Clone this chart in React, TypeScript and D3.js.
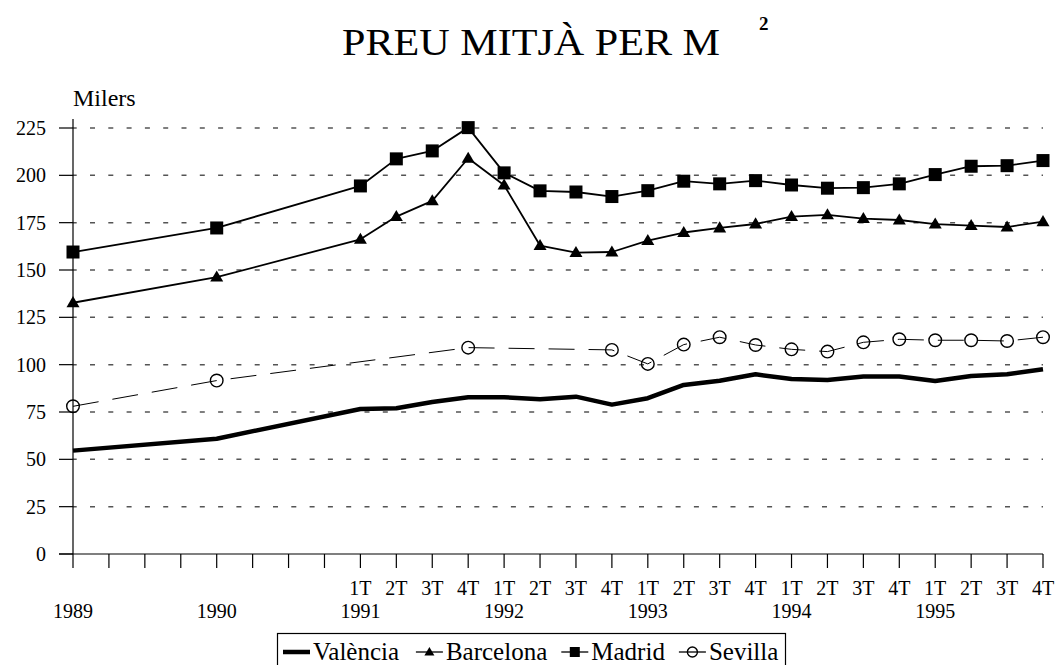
import React from "react";
import * as d3 from "d3";

const periods = [
  "1989", "1989-2", "1989-3", "1989-4",
  "1990", "1990-2", "1990-3", "1990-4",
  "1991-1T", "1991-2T", "1991-3T", "1991-4T",
  "1992-1T", "1992-2T", "1992-3T", "1992-4T",
  "1993-1T", "1993-2T", "1993-3T", "1993-4T",
  "1994-1T", "1994-2T", "1994-3T", "1994-4T",
  "1995-1T", "1995-2T", "1995-3T", "1995-4T",
];

const quarterLabels = [
  "", "", "", "", "", "", "", "",
  "1T", "2T", "3T", "4T", "1T", "2T", "3T", "4T",
  "1T", "2T", "3T", "4T", "1T", "2T", "3T", "4T",
  "1T", "2T", "3T", "4T",
];

const yearLabels = [
  { label: "1989", at: "1989" },
  { label: "1990", at: "1990" },
  { label: "1991", at: "1991-1T" },
  { label: "1992", at: "1992-1T" },
  { label: "1993", at: "1993-1T" },
  { label: "1994", at: "1994-1T" },
  { label: "1995", at: "1995-1T" },
];

const yTicks = [0, 25, 50, 75, 100, 125, 150, 175, 200, 225];

const valencia = [54.6, null, null, null, 60.9, null, null, null, 76.6, 77.0, 80.3, 82.8, 82.8, 81.7, 83.1, 78.9, 82.3, 89.3, 91.5, 94.9, 92.4, 91.9, 93.7, 93.7, 91.4, 94.0, 94.9, 97.6];
const barcelona = [132.7, null, null, null, 146.2, null, null, null, 166.2, 178.2, 186.5, 209.0, 194.8, 162.9, 159.2, 159.5, 165.5, 169.8, 172.2, 174.3, 178.2, 179.1, 177.1, 176.4, 174.2, 173.4, 172.7, 175.5];
const madrid = [159.5, null, null, null, 172.2, null, null, null, 194.4, 208.7, 212.9, 225.2, 201.3, 191.8, 191.2, 188.8, 191.9, 196.9, 195.5, 197.2, 194.9, 193.2, 193.5, 195.5, 200.4, 204.8, 205.1, 207.8];
const sevilla = [78.0, null, null, null, 91.6, null, null, null, null, null, null, 109.0, null, null, null, 107.8, 100.4, 110.6, 114.5, 110.4, 108.1, 106.9, 111.8, 113.4, 112.9, 112.9, 112.5, 114.5];

const seriesNames = ["València", "Barcelona", "Madrid", "Sevilla"];

const FONT = '"Liberation Serif", "Times New Roman", Times, serif';

type Marker = "none" | "triangle" | "square" | "circle";

function MarkerShape({ kind, x, y, s }: { kind: Marker; x: number; y: number; s: number }) {
  if (kind === "square") {
    return <rect x={x - s / 2} y={y - s / 2} width={s} height={s} fill="#000" />;
  }
  if (kind === "triangle") {
    const h = s * 0.85;
    return (
      <path
        d={`M${x},${y - h * 0.6} L${x + s / 2},${y + h * 0.4} L${x - s / 2},${y + h * 0.4} Z`}
        fill="#000"
      />
    );
  }
  if (kind === "circle") {
    return <circle cx={x} cy={y} r={s / 2} fill="none" stroke="#000" strokeWidth={1.4} />;
  }
  return null;
}

export default function App() {
  const W = 1055;
  const H = 665;
  const x = d3.scalePoint<string>().domain(periods).range([73, 1043]);
  const y = d3.scaleLinear().domain([0, 225]).range([554, 128]);

  const series = [
    { name: seriesNames[0], values: valencia, width: 4.5, dash: "", marker: "none" as Marker, ms: 0 },
    { name: seriesNames[1], values: barcelona, width: 1.8, dash: "", marker: "triangle" as Marker, ms: 13 },
    { name: seriesNames[2], values: madrid, width: 1.8, dash: "", marker: "square" as Marker, ms: 13 },
    { name: seriesNames[3], values: sevilla, width: 1, dash: "26,14", marker: "circle" as Marker, ms: 12.6 },
  ];

  const lineGen = d3
    .line<[string, number]>()
    .x((d) => x(d[0]) as number)
    .y((d) => y(d[1]));

  // legend layout
  const legendFont = 25;
  const legendWidths = [88.9, 101.4, 73.6, 69.5];
  let cursor = 283;
  const legendItems = series.map((s, i) => {
    const sx = cursor;
    const tx = sx + 30;
    cursor = tx + legendWidths[i] + 14;
    return { ...s, sx, tx };
  });

  return (
    <svg
      width={W}
      height={H}
      style={{ position: "absolute", left: 0, top: 0, background: "#fff" }}
      fontFamily={FONT}
    >
      <rect x={0} y={0} width={W} height={H} fill="#fff" />
      {/* Title */}
      <text x={342} y={55} fontSize={37} textLength={378} lengthAdjust="spacingAndGlyphs" fill="#000">
        PREU MITJÀ PER M
      </text>
      <text x={759} y={30} fontSize={19} fontWeight="bold" fill="#000">
        2
      </text>

      {/* Units label */}
      <text x={73} y={106} fontSize={24} fill="#000">
        Milers
      </text>

      {/* Gridlines */}
      {yTicks
        .filter((t) => t > 0)
        .map((t) => (
          <line
            key={"g" + t}
            x1={73}
            x2={1043}
            y1={y(t)}
            y2={y(t)}
            stroke="#555"
            strokeWidth={1.5}
            strokeDasharray="5,13.3"
            strokeDashoffset={1.3}
          />
        ))}

      {/* Y axis */}
      <line x1={73} x2={73} y1={119} y2={554} stroke="#000" strokeWidth={1.2} />
      {yTicks.map((t) => (
        <g key={"yt" + t}>
          <line x1={59} x2={73} y1={y(t)} y2={y(t)} stroke="#000" strokeWidth={1.2} />
          <text x={46} y={y(t) + 7} fontSize={20} textAnchor="end" fill="#000">
            {t}
          </text>
        </g>
      ))}

      {/* X axis */}
      <line x1={59} x2={1043} y1={554} y2={554} stroke="#000" strokeWidth={1.2} />
      {periods.map((p, i) => (
        <g key={"xt" + p}>
          <line x1={x(p)} x2={x(p)} y1={554} y2={568} stroke="#000" strokeWidth={1.2} />
          {quarterLabels[i] && (
            <text x={x(p)} y={595} fontSize={20} textAnchor="middle" fill="#000">
              {quarterLabels[i]}
            </text>
          )}
        </g>
      ))}
      {yearLabels.map((yl) => (
        <text key={"yl" + yl.label} x={x(yl.at)} y={618} fontSize={20} textAnchor="middle" fill="#000">
          {yl.label}
        </text>
      ))}

      {/* Series */}
      {series.map((s) => {
        const pts: [string, number][] = [];
        s.values.forEach((v, i) => {
          if (v !== null && v !== undefined) pts.push([periods[i], v as number]);
        });
        return (
          <g key={s.name}>
            <path
              d={lineGen(pts) || ""}
              fill="none"
              stroke="#000"
              strokeWidth={s.width}
              strokeDasharray={s.dash || undefined}
              strokeLinejoin="round"
            />
            {pts.map((p) => (
              <MarkerShape key={p[0]} kind={s.marker} x={x(p[0]) as number} y={y(p[1])} s={s.ms} />
            ))}
          </g>
        );
      })}

      {/* Legend */}
      <rect x={277.5} y={633.5} width={508} height={45} fill="#fff" stroke="#000" strokeWidth={1.2} />
      {legendItems.map((it) => (
        <g key={"lg" + it.name}>
          <line
            x1={it.sx}
            x2={it.sx + 27}
            y1={652}
            y2={652}
            stroke="#000"
            strokeWidth={it.name === "València" ? 4.5 : 1.3}
          />
          <MarkerShape kind={it.marker} x={it.sx + 13.5} y={652} s={10} />
          <text x={it.tx} y={660} fontSize={legendFont} fill="#000">
            {it.name}
          </text>
        </g>
      ))}
    </svg>
  );
}
